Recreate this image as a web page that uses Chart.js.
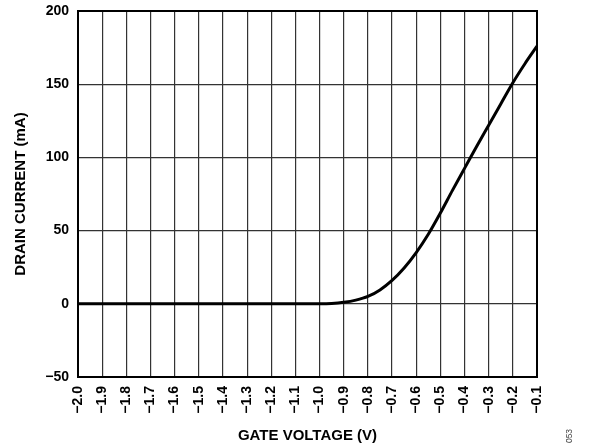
<!DOCTYPE html>
<html>
<head>
<meta charset="utf-8">
<script src="https://cdn.jsdelivr.net/npm/chart.js@4/dist/chart.umd.min.js"></script>
<style>
  html, body { margin: 0; padding: 0; background: #fff; }
  #wrap { width: 600px; height: 446px; position: relative; }
</style>
</head>
<body>
<div id="wrap"><canvas id="idChart"></canvas></div>
<script>
// gate voltage (V) and drain current (mA)
const gateVoltage = [-2.0, -1.5, -1.2, -1.0, -0.95, -0.9, -0.85, -0.8, -0.75, -0.7, -0.65, -0.6, -0.55, -0.5, -0.45, -0.4, -0.35, -0.3, -0.25, -0.2, -0.15, -0.1];
const drainCurrent = [0, 0, 0, 0, 0.2, 1, 2.5, 5, 9.5, 16, 24.5, 35, 47.5, 62, 77.5, 92.5, 107.5, 122, 136.5, 151, 164, 176];

const xTickValues = [-2.0, -1.9, -1.8, -1.7, -1.6, -1.5, -1.4, -1.3, -1.2, -1.1, -1.0, -0.9, -0.8, -0.7, -0.6, -0.5, -0.4, -0.3, -0.2, -0.1];
const xTickLabels = ['\u22122.0', '\u22121.9', '\u22121.8', '\u22121.7', '\u22121.6', '\u22121.5', '\u22121.4', '\u22121.3', '\u22121.2', '\u22121.1', '\u22121.0', '\u22120.9', '\u22120.8', '\u22120.7', '\u22120.6', '\u22120.5', '\u22120.4', '\u22120.3', '\u22120.2', '\u22120.1'];
const yTickValues = [-50, 0, 50, 100, 150, 200];
const yTickLabels = ['\u221250', '0', '50', '100', '150', '200'];

const FONT = '"Liberation Sans", Arial, sans-serif';

// frame round the plot and the small figure number at the bottom right
const framePlugin = {
    id: 'frame',
    beforeDatasetsDraw(chart) {
        const a = chart.chartArea;
        const ctx = chart.ctx;
        ctx.save();
        ctx.strokeStyle = '#000';
        ctx.lineWidth = 2;
        ctx.strokeRect(a.left, a.top, a.right - a.left, a.bottom - a.top);
        ctx.restore();
    },
    afterDraw(chart) {
        const ctx = chart.ctx;
        ctx.save();
        ctx.translate(570, 436);
        ctx.rotate(-Math.PI / 2);
        ctx.font = '8.5px ' + FONT;
        ctx.fillStyle = '#444';
        ctx.textAlign = 'center';
        ctx.textBaseline = 'middle';
        ctx.fillText('053', 0, 0);
        ctx.restore();
    }
};

document.addEventListener("DOMContentLoaded", function () {
    const ctx = document.getElementById('idChart').getContext('2d');
    new Chart(ctx, {
        type: 'line',
        data: {
            datasets: [{
                label: 'Drain current',
                data: gateVoltage.map((v, i) => ({ x: v, y: drainCurrent[i] })),
                borderColor: '#000',
                borderWidth: 3,
                pointRadius: 0,
                fill: false,
                cubicInterpolationMode: 'monotone'
            }]
        },
        options: {
            responsive: true,
            maintainAspectRatio: false,
            animation: false,
            layout: { padding: { left: 8, top: 11, right: 63, bottom: 0 } },
            plugins: {
                legend: { display: false },
                tooltip: { enabled: false }
            },
            scales: {
                x: {
                    type: 'linear',
                    min: -2.0,
                    max: -0.1,
                    afterBuildTicks: (scale) => { scale.ticks = xTickValues.map(v => ({ value: v })); },
                    afterFit: (scale) => { scale.height = 69; scale.paddingLeft = 0; scale.paddingRight = 0; },
                    grid: { color: '#333', lineWidth: 1.2, drawTicks: false },
                    border: { display: false },
                    ticks: {
                        minRotation: 90,
                        maxRotation: 90,
                        padding: 9,
                        color: '#000',
                        font: { family: FONT, size: 14, weight: 'bold' },
                        callback: (v, i) => xTickLabels[i]
                    },
                    title: {
                        display: true,
                        text: 'GATE VOLTAGE (V)',
                        color: '#000',
                        font: { family: FONT, size: 15, weight: 'bold' },
                        padding: { top: 0, bottom: 1 }
                    }
                },
                y: {
                    min: -50,
                    max: 200,
                    afterBuildTicks: (scale) => { scale.ticks = yTickValues.map(v => ({ value: v })); },
                    afterFit: (scale) => { scale.width = 70; scale.paddingTop = 0; scale.paddingBottom = 0; },
                    grid: { color: '#333', lineWidth: 1.2, drawTicks: false },
                    border: { display: false },
                    ticks: {
                        padding: 9,
                        color: '#000',
                        font: { family: FONT, size: 14, weight: 'bold' },
                        callback: (v, i) => yTickLabels[i]
                    },
                    title: {
                        display: true,
                        text: 'DRAIN CURRENT (mA)',
                        color: '#000',
                        font: { family: FONT, size: 15, weight: 'bold' },
                        padding: { top: 4, bottom: 0 }
                    }
                }
            }
        },
        plugins: [framePlugin]
    });
});
</script>
</body>
</html>
